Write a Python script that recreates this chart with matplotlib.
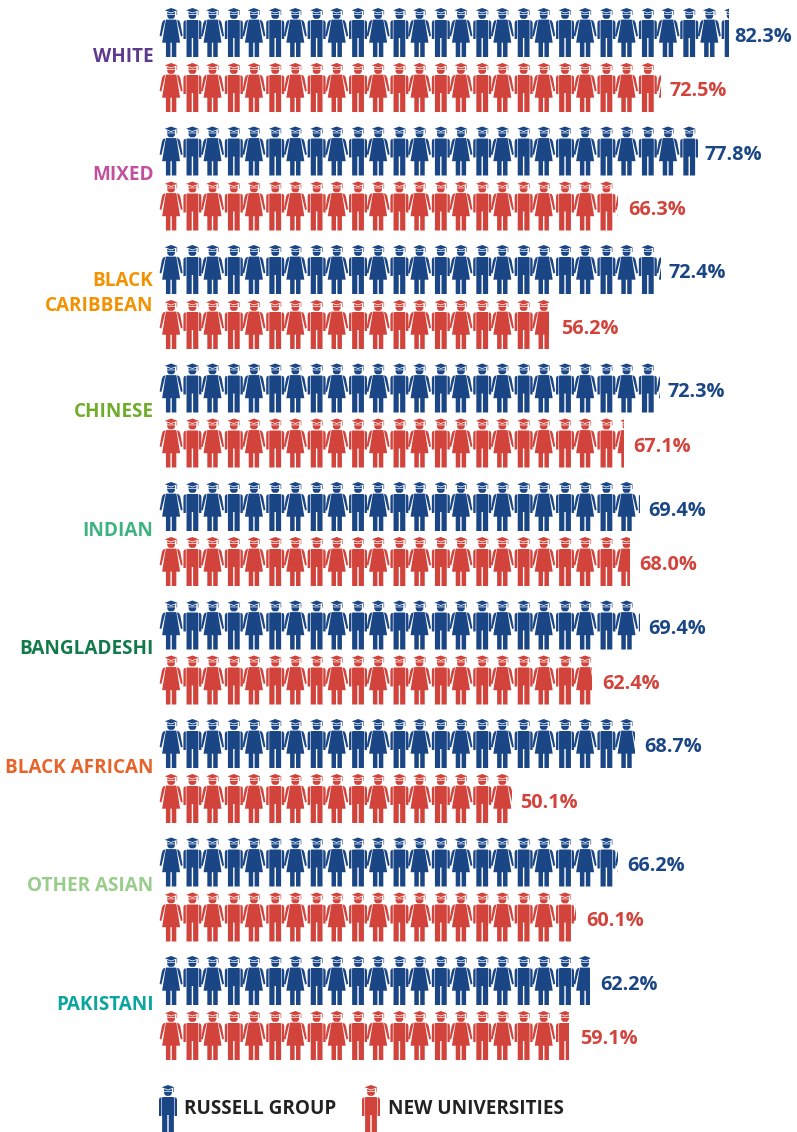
import math
import matplotlib
matplotlib.use("Agg")
import matplotlib.pyplot as plt
from matplotlib.path import Path
from matplotlib.patches import PathPatch, Rectangle
from matplotlib.transforms import Affine2D

categories = ["WHITE", "MIXED", "BLACK\nCARIBBEAN", "CHINESE", "INDIAN", "BANGLADESHI",
              "BLACK AFRICAN", "OTHER ASIAN", "PAKISTANI"]
russell = [82.3, 77.8, 72.4, 72.3, 69.4, 69.4, 68.7, 66.2, 62.2]
new_uni = [72.5, 66.3, 56.2, 67.1, 68.0, 62.4, 50.1, 60.1, 59.1]
# how far the red icon row visibly reaches in the picture (one row overshoots its label)
new_uni_drawn = [72.5, 66.3, 56.2, 67.1, 68.0, 62.4, 50.8, 60.1, 59.1]
label_colors = ["#5e3a8f", "#c2509e", "#f39200", "#70ad2b", "#3fb37f", "#12794b",
                "#e8632a", "#98cd8c", "#0ba5a0"]
series_names = ["RUSSELL GROUP", "NEW UNIVERSITIES"]
BLUE, RED = "#1b4686", "#d2433b"
PCT_PER_ICON = 3.0

W, H = 797, 1132
PX_PER_PCT = 6.9
X0, Y0, GROUP_H = 161.0, 32.5, 118.5
ROW_GAP = 55.0

plt.rcParams["font.family"] = ["Open Sans", "DejaVu Sans"]
fig = plt.figure(figsize=(W / 100, H / 100), dpi=100)
ax = fig.add_axes([0, 0, 1, 1])
ax.set_xlim(-X0 / PX_PER_PCT, (W - X0) / PX_PER_PCT)
ax.set_ylim((H - Y0) / GROUP_H, -Y0 / GROUP_H)
ax.axis("off")


def poly(pts):
    v = list(pts) + [pts[0]]
    c = [Path.MOVETO] + [Path.LINETO] * (len(pts) - 1) + [Path.CLOSEPOLY]
    return Path(v, c)


def head(cx):
    """Cap + face, in icon pixels, y down."""
    return [
        poly([(cx - 6.3, 2.3), (cx, 0), (cx + 6.3, 2.3), (cx, 4.6)]),
        poly([(cx - 3.9, 4.0), (cx, 5.4), (cx + 3.9, 4.0), (cx + 3.9, 6.1), (cx - 3.9, 6.1)]),
        poly([(cx - 4.0, 6.8), (cx + 4.0, 6.8), (cx + 3.6, 9.2), (cx + 2.0, 10.8), (cx - 2.0, 10.8), (cx - 3.6, 9.2)]),
        poly([(cx + 5.4, 2.8), (cx + 6.0, 2.8), (cx + 6.0, 7.0), (cx + 5.4, 7.0)]),
    ]


def man(w=18.0):
    cx = w / 2
    parts = head(cx)
    parts += [
        poly([(cx - 5.5, 12), (cx + 5.5, 12), (cx + 6.0, 13), (cx + 6.0, 30), (cx - 6.0, 30), (cx - 6.0, 13)]),
        poly([(cx - 6.6, 12.2), (cx - 6.6, 31), (cx - 9, 31), (cx - 9, 14.6), (cx - 8.4, 12.9)]),
        poly([(cx + 6.6, 12.2), (cx + 8.4, 12.9), (cx + 9, 14.6), (cx + 9, 31), (cx + 6.6, 31)]),
        poly([(cx - 5.9, 30), (cx - 0.7, 30), (cx - 0.7, 49), (cx - 5.9, 49)]),
        poly([(cx + 0.7, 30), (cx + 5.9, 30), (cx + 5.9, 49), (cx + 0.7, 49)]),
    ]
    return Path.make_compound_path(*parts)


def woman(w=23.0):
    cx = w / 2
    parts = head(cx)
    parts += [
        poly([(cx - 5.2, 11.6), (cx + 5.2, 11.6), (cx + 6.0, 16), (cx + 9.0, 34.7), (cx - 9.0, 34.7), (cx - 6.0, 16)]),
        poly([(cx - 5.8, 11.8), (cx - 6.8, 16.5), (cx - 9.8, 28.6), (cx - 11.5, 27.8), (cx - 9.2, 15.0), (cx - 8.0, 12.6)]),
        poly([(cx + 5.8, 11.8), (cx + 8.0, 12.6), (cx + 9.2, 15.0), (cx + 11.5, 27.8), (cx + 9.8, 28.6), (cx + 6.8, 16.5)]),
        poly([(cx - 5.2, 34.7), (cx - 0.7, 34.7), (cx - 0.7, 49), (cx - 5.2, 49)]),
        poly([(cx + 0.7, 34.7), (cx + 5.2, 34.7), (cx + 5.2, 49), (cx + 0.7, 49)]),
    ]
    return Path.make_compound_path(*parts)


MAN, WOMAN = man(), woman()


def place(icon, left_pct, top_y):
    """Icon px -> data coordinates."""
    t = Affine2D().scale(1 / PX_PER_PCT, 1 / GROUP_H).translate(left_pct, top_y)
    return icon.transformed(t)


def draw_row(value, y_center, color):
    n = math.ceil(value / PCT_PER_ICON)
    clip = Rectangle((-2, y_center - 0.3), value + 2, 0.6, transform=ax.transData)
    top = y_center - 24.5 / GROUP_H
    for i in range(n):
        left = i * PCT_PER_ICON
        if i % 2 == 0:
            p = place(WOMAN, left - 0.2, top)
        else:
            p = place(MAN, left + 0.25, top)
        patch = PathPatch(p, facecolor=color, edgecolor="none", lw=0)
        ax.add_patch(patch)
        patch.set_clip_path(clip)


FS = 14.3
LFS = 13.55
for g, cat in enumerate(categories):
    yb, yr = g, g + ROW_GAP / GROUP_H
    draw_row(russell[g], yb, BLUE)
    draw_row(new_uni_drawn[g], yr, RED)
    for v, y, c in ((russell[g], yb, BLUE), (new_uni[g], yr, RED)):
        ax.text(v * 0.964 + 3.75, y + 4.0 / GROUP_H, f"{v:.1f}%", color=c, fontsize=FS,
                fontweight="bold", va="center", ha="left")
    ax.text(-7.5 / PX_PER_PCT, g + 24.0 / GROUP_H, cat, color=label_colors[g], fontsize=LFS,
            fontweight="bold", va="center", ha="right", linespacing=1.32,
            multialignment="right")

# legend
leg_top = (1085 - Y0) / GROUP_H
for x_px, tx_px, c, name in ((159, 184, BLUE, series_names[0]), (362, 388, RED, series_names[1])):
    ax.add_patch(PathPatch(place(MAN, (x_px - X0) / PX_PER_PCT, leg_top),
                           facecolor=c, edgecolor="none", lw=0))
    ax.text((tx_px - X0) / PX_PER_PCT, (1109 - Y0) / GROUP_H, name, color="#222222",
            fontsize=LFS, fontweight="bold", va="center", ha="left")

fig.savefig("out.png", dpi=100, facecolor="white")
